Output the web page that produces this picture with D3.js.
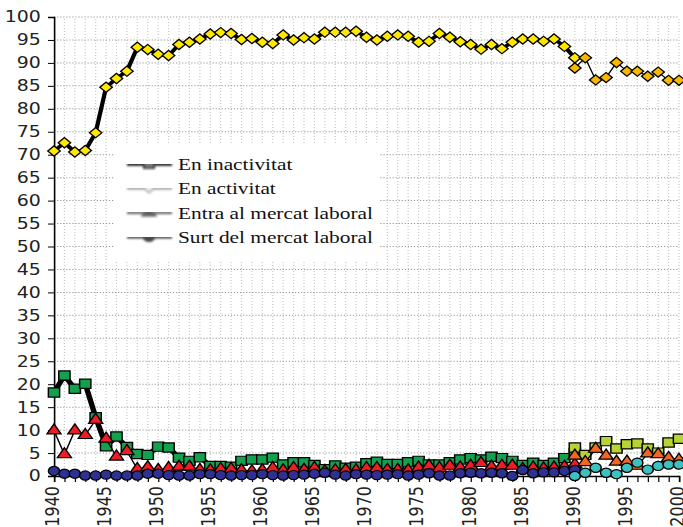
<!DOCTYPE html>
<html>
<head>
<meta charset="utf-8">
<script src="https://cdn.jsdelivr.net/npm/d3@7"></script>
<style>
  body { margin: 0; background: #fff; }
</style>
</head>
<body>
<div id="chart"></div>
<script>
// categories: the old survey runs 1940-1990, the new one 1990-2000
const oldYears = d3.range(1940, 1991);
const newYears = d3.range(1990, 2001);

// series values (old survey)
const inactivitatOld = [18.2, 21.9, 19.0, 20.1, 12.8, 6.5, 8.6, 6.3, 4.8, 4.6,
  6.4, 6.2, 4.0, 3.3, 4.1, 2.2, 2.2, 2.0, 3.3, 3.6,
  3.6, 4.0, 2.5, 3.0, 3.0, 2.4, 1.5, 2.3, 1.8, 2.0,
  2.8, 3.1, 2.6, 2.6, 3.0, 3.3, 2.5, 2.5, 3.0, 3.6,
  3.9, 3.6, 4.2, 3.9, 3.3, 2.4, 2.9, 2.4, 2.9, 3.9, 5.0];
const activitatOld = [70.8, 72.6, 70.6, 70.9, 74.8, 84.7, 86.6, 88.2, 93.4, 92.9,
  91.9, 91.6, 94.0, 94.5, 95.2, 96.3, 96.6, 96.4, 95.1, 95.3,
  94.5, 94.2, 96.1, 95.0, 95.5, 95.2, 96.7, 96.7, 96.7, 96.9,
  95.6, 95.0, 95.8, 96.1, 95.8, 94.5, 94.7, 96.4, 95.6, 94.6,
  94.0, 93.0, 94.0, 93.1, 94.5, 95.2, 95.2, 94.7, 95.2, 93.6, 91.1];
const entraOld = [9.9, 4.7, 9.9, 8.9, 12.2, 8.1, 4.2, 5.4, 1.5, 1.9,
  1.3, 1.7, 2.0, 2.0, 1.3, 1.2, 1.5, 1.5, 1.2, 1.0,
  1.2, 1.7, 1.2, 1.7, 1.3, 1.7, 1.0, 1.2, 1.3, 1.2,
  1.7, 1.7, 1.3, 1.3, 1.2, 1.8, 2.2, 1.7, 2.2, 1.8,
  2.2, 2.8, 2.0, 2.2, 2.2, 1.5, 1.8, 1.6, 1.8, 2.0, 2.5];
const surtOld = [1.1, 0.5, 0.5, 0.1, 0.1, 0.3, 0.1, 0.1, 0.1, 0.5,
  0.5, 0.2, 0.1, 0.1, 0.4, 0.4, 0.2, 0.1, 0.2, 0.2,
  0.4, 0.2, 0.1, 0.2, 0.3, 0.5, 0.7, 0.3, 0.1, 0.4,
  0.3, 0.2, 0.3, 0.4, 0.1, 0.3, 0.6, 0.1, 0.1, 0.6,
  0.7, 0.6, 0.7, 0.6, 0.0, 1.3, 0.6, 0.8, 0.8, 1.1, 1.3];

// series values (new survey)
const inactivitatNew = [6.2, 4.6, 6.2, 7.6, 6.0, 6.9, 7.1, 6.0, 5.1, 7.3, 8.1];
const activitatNew = [88.9, 91.1, 86.3, 86.8, 90.1, 88.2, 88.2, 87.1, 88.0, 86.2, 86.2];
const entraNew = [4.4, 3.0, 5.9, 4.4, 3.1, 3.1, 2.2, 4.9, 4.7, 3.9, 3.5];
const surtNew = [0.0, 0.7, 1.8, 0.7, 0.4, 1.8, 2.9, 1.4, 2.2, 2.5, 2.5];

const legendLabels = ["En inactivitat", "En activitat", "Entra al mercat laboral", "Surt del mercat laboral"];
const yTicks = d3.range(0, 101, 5);
const xLabels = d3.range(1940, 2001, 5);

// the picture is stretched sideways, so draw narrow and stretch
const W = 683, H = 527, sx = 1.22;
const svg = d3.select("#chart").append("svg")
    .attr("width", W)
    .attr("height", H)
    .attr("viewBox", `0 0 ${W / sx} ${H}`)
    .attr("preserveAspectRatio", "none");

const defs = svg.append("defs");
defs.append("filter").attr("id", "soft")
    .attr("filterUnits", "userSpaceOnUse")
    .attr("x", 0).attr("y", 0).attr("width", W).attr("height", H)
  .append("feGaussianBlur").attr("stdDeviation", 0.8);

const x = d3.scaleLinear().domain([1940, 2000]).range([54 / sx, 679 / sx]);
const y = d3.scaleLinear().domain([0, 100]).range([476, 17]);

// grid
svg.append("g")
  .selectAll("line")
  .data(d3.range(1941, 2001))
  .join("line")
    .attr("x1", d => x(d)).attr("x2", d => x(d))
    .attr("y1", y(0)).attr("y2", y(100))
    .attr("stroke", "#c8c8c8")
    .attr("stroke-dasharray", "1,2");
svg.append("g")
  .selectAll("line")
  .data(yTicks.slice(1))
  .join("line")
    .attr("x1", x(1940)).attr("x2", x(2000))
    .attr("y1", d => y(d)).attr("y2", d => y(d))
    .attr("stroke", "#999")
    .attr("stroke-dasharray", "1,1.5");

// axes
const yAxis = svg.append("g")
    .attr("transform", `translate(${x(1940)},0)`)
    .call(d3.axisLeft(y).tickValues(yTicks).tickSize(6 / sx).tickPadding(6));
yAxis.selectAll("text")
    .style("font-family", "DejaVu Sans")
    .style("font-size", "15.5px")
    .attr("fill", "#222");

const xAxis = svg.append("g")
    .attr("transform", `translate(0,${y(0)})`)
    .call(d3.axisBottom(x).tickValues(d3.range(1940, 2001)).tickSize(6)
      .tickFormat(d => xLabels.includes(d) ? d : ""));
xAxis.selectAll("text")
    .style("font-family", "DejaVu Sans")
    .style("font-size", "16px")
    .attr("fill", "#222")
    .attr("transform", "rotate(-90)")
    .attr("x", -10)
    .attr("y", 0)
    .attr("dy", "0.22em")
    .style("text-anchor", "end");
svg.selectAll(".domain").attr("stroke", "#000").attr("stroke-width", 1.3);
svg.selectAll(".tick line").attr("stroke", "#000");

// series
const series = [
  {years: oldYears, values: inactivitatOld, shape: "square", fill: "#13a04f", width: 4.5},
  {years: oldYears, values: activitatOld, shape: "diamond", fill: "#ffe800", width: 3.5},
  {years: oldYears, values: entraOld, shape: "triangle", fill: "#ee1c24", width: 1.2},
  {years: oldYears, values: surtOld, shape: "circle", fill: "#2e3192", width: 1.2},
  {years: newYears, values: inactivitatNew, shape: "square", fill: "#b6d434", width: 1.2},
  {years: newYears, values: activitatNew, shape: "diamond", fill: "#f7b800", width: 1.2},
  {years: newYears, values: entraNew, shape: "triangle", fill: "#f26522", width: 1.2},
  {years: newYears, values: surtNew, shape: "circle", fill: "#3cc0c0", width: 1.2}
];

const symbols = {
  square: d3.symbol(d3.symbolSquare, 85)(),
  diamond: d3.symbol(d3.symbolSquare, 52)(),
  triangle: d3.symbol(d3.symbolTriangle, 58)(),
  circle: d3.symbol(d3.symbolCircle, 66)()
};

const line = d3.line().x(d => x(d[0])).y(d => y(d[1]));

series.forEach(s => {
  const pts = s.years.map((yr, i) => [yr, s.values[i]]);
  const g = svg.append("g");
  g.append("path")
    .datum(pts)
    .attr("d", line)
    .attr("fill", "none")
    .attr("stroke", "#000")
    .attr("stroke-width", s.width)
    .attr("stroke-linejoin", "round");
  g.selectAll("path.mark")
    .data(pts)
    .join("path")
      .attr("class", "mark")
      .attr("d", symbols[s.shape])
      .attr("transform", d => `translate(${x(d[0])},${y(d[1])})` + (s.shape === "diamond" ? " rotate(45)" : ""))
      .attr("fill", s.fill)
      .attr("stroke", "#000")
      .attr("stroke-width", 1.2);
});

// legend
const legend = svg.append("g");
legend.append("rect")
    .attr("x", 114 / sx).attr("y", 145)
    .attr("width", 266 / sx).attr("height", 117)
    .attr("fill", "#fff");
const legendSwatch = [
  {shape: "square", line: "#333", fill: "#7a7a7a", width: 4},
  {shape: "diamond", line: "#aaa", fill: "#eee", width: 3},
  {shape: "triangle", line: "#707070", fill: "#5e5e5e", width: 3},
  {shape: "circle", line: "#444", fill: "#4a4a4a", width: 3}
];
const legendMarks = {
  square: d3.symbol(d3.symbolSquare, 70)(),
  diamond: d3.symbol(d3.symbolSquare, 40)(),
  triangle: d3.symbol(d3.symbolTriangle, 55)(),
  circle: d3.symbol(d3.symbolCircle, 60)()
};
const ly = d3.scalePoint().domain(legendLabels).range([164, 237]);
const item = legend.selectAll("g.item")
  .data(legendLabels)
  .join("g")
    .attr("class", "item")
    .attr("transform", d => `translate(0,${ly(d)})`)
    .attr("filter", "url(#soft)");
item.append("rect")
    .attr("x", 127 / sx).attr("width", 45 / sx)
    .attr("y", (d, i) => -legendSwatch[i].width / 2)
    .attr("height", (d, i) => legendSwatch[i].width)
    .attr("fill", (d, i) => legendSwatch[i].line);
item.append("path")
    .attr("d", (d, i) => legendMarks[legendSwatch[i].shape])
    .attr("transform", (d, i) => `translate(${149 / sx},0)` + (legendSwatch[i].shape === "diamond" ? " rotate(45)" : ""))
    .attr("fill", (d, i) => legendSwatch[i].fill)
    .attr("stroke", (d, i) => legendSwatch[i].line)
    .attr("stroke-width", 1.5);
legend.selectAll("text")
  .data(legendLabels)
  .join("text")
    .attr("x", 178 / sx)
    .attr("y", d => ly(d))
    .attr("dy", "0.35em")
    .style("font-family", "Liberation Serif")
    .style("font-size", "17.5px")
    .attr("fill", "#111")
    .text(d => d);
</script>
</body>
</html>
